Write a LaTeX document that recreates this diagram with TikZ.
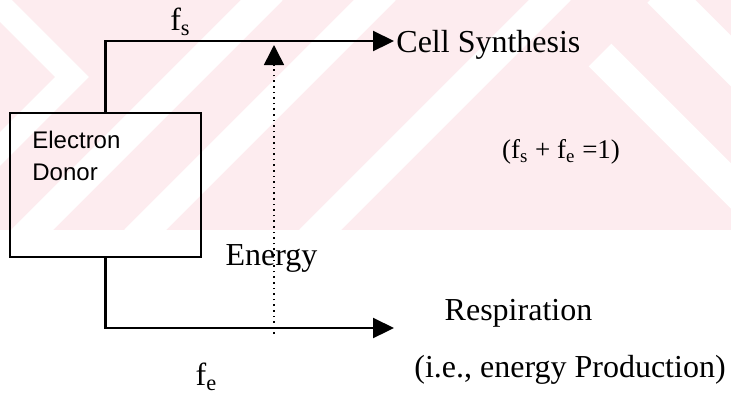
\documentclass[tikz,border=0pt]{standalone}
\usepackage{fontspec}
\setmainfont{Liberation Serif}
\setsansfont{Liberation Sans}
\usetikzlibrary{arrows.meta}
\definecolor{wmpink}{RGB}{253,236,239}

\begin{document}
\begin{tikzpicture}[x=0.5pt, y=-0.5pt,
  every node/.style={font=\fontsize{16}{19}\selectfont, inner sep=1pt},
  flow/.style={line width=1.1pt, -{Triangle[length=10.5pt, width=10pt]}},
  energyflow/.style={line width=0.8pt, dotted, -{Triangle[length=10pt, width=10pt]}},
  donorbox/.style={draw, line width=1.1pt, minimum width=95.5pt, minimum height=72pt, inner sep=0pt},
  stripe/.style={white, line width=15pt}]
  \useasboundingbox (0,0) rectangle (731,393);
  % watermark band
  \fill[wmpink] (0,0) rectangle (731,230);
  \begin{scope}
    \clip (0,0) rectangle (731,230);
    \foreach \c in {262,375,550} \draw[stripe] (\c+10,-10) -- (\c-240,240);
    \draw[stripe, line width=12pt, line join=miter] (-20,-15) -- (72,77) -- (-20,169);
    \draw[stripe, line width=16pt] (600,55) -- (785,240);
    \draw[stripe, line width=18pt] (660,-10) -- (750,80);
  \end{scope}
  % donor box and its two branches
  \node[donorbox] (donor) at (105.5,185) {};
  \node[font=\sffamily\fontsize{12}{16}\selectfont, align=left, anchor=north west] (donorlbl) at (30,129) {Electron\\Donor};
  \node[anchor=west, text depth=0pt] (cell) at (394,41) {Cell Synthesis};
  \coordinate (resptip) at (394,328);
  \draw[flow] (donor.north) |- node[pos=0.63, above=1pt] (fslbl) {f\textsubscript{s}} (cell.west);
  \draw[flow] (donor.south) |- node[pos=0.675, below=16pt] (felbl) {f\textsubscript{e}} (resptip);
  % energy
  \coordinate (ebase) at (274,334);
  \coordinate (etip) at (274,45);
  \draw[energyflow] (ebase) -- (etip);
  \node[anchor=base] (energylbl) at (271.5,265) {Energy};
  \node[anchor=base] (resplbl) at (518.5,320) {Respiration};
  \node[anchor=base] (prodlbl) at (570,377) {(i.e., energy Production)};
  \node[anchor=base, font=\fontsize{13.5}{16}\selectfont] (sumlbl) at (561,158) {(f\textsubscript{s} + f\textsubscript{e} =1)};
\end{tikzpicture}
\end{document}
